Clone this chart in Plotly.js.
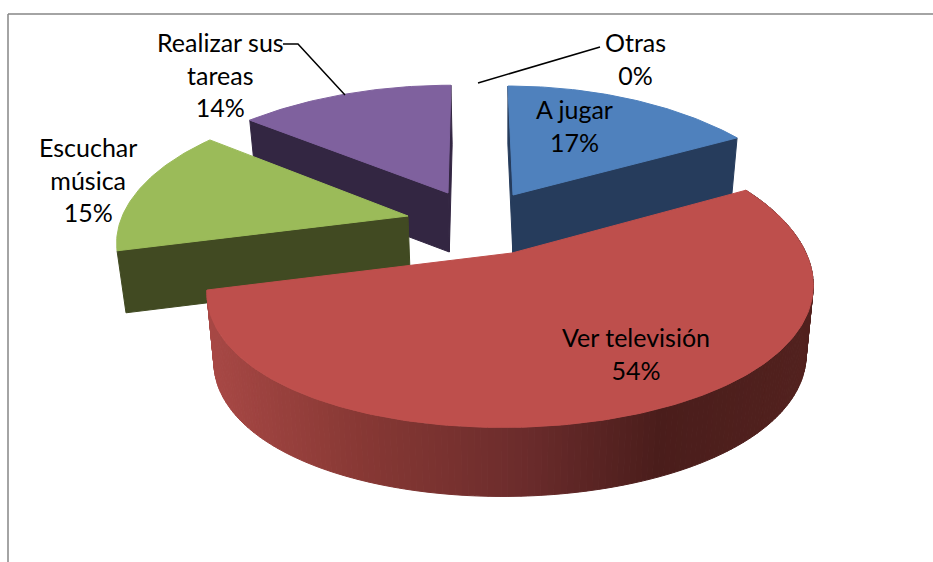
<!DOCTYPE html>
<html><head><meta charset="utf-8">
<script src="https://cdn.plot.ly/plotly-3.0.1.min.js"></script>
<style>html,body{margin:0;padding:0;background:#fff}#c{width:933px;height:562px}</style>
</head><body><div id="c"></div>
<script>
var categories = ["A jugar","Ver televisión","Escuchar música","Realizar sus tareas","Otras"];
var values = [17,54,15,14,0];
var labelLines = [["A jugar"],["Ver televisión"],["Escuchar","música"],["Realizar sus","tareas"],["Otras"]];

// projection constants for the tilted pie (not data)
var geo = [
 {ax:513,ay:195,sx:.973,sy:.91,vx:487,depth:58,top:"#4F81BD",wall:"#263C5C"},
 {ax:512,ay:253,sx:.99,sy:1,vx:542,depth:69,top:"#BE4F4C"},
 {ax:408,ay:216,sx:.962,sy:.94,vx:353,depth:62,top:"#9BBB59",wall:"#414A22"},
 {ax:448,ay:193,sx:1.01,sy:.9,vx:463,depth:59,top:"#7F619E",wall:"#332642"}
];
var A=297,B=142,KX=.242,KY=.186,VX=505,WS=.977,STEP=1;
var labelPos=[[574,125],[636,353],[88,179],[220,74],[635,58]];

function pt(g,deg,r,low){
  var t=deg*Math.PI/180,X=r*Math.sin(t),Y=r*Math.cos(t);
  var sxp=1/(1+KX*Y),syp=1/(1+KY*Y);
  var x=g.ax+g.sx*A*X*sxp+(g.ax-g.vx)*(sxp-1),y=g.ay-g.sy*B*Y*syp;
  if(low){x=VX+(x-VX)*WS;y+=g.depth;}
  return [x,y];
}
function poly(pts,color){
  var xs=pts.map(function(p){return p[0]}),ys=pts.map(function(p){return p[1]});
  xs.push(xs[0]);ys.push(ys[0]);
  return {type:"scatter",mode:"lines",x:xs,y:ys,fill:"toself",fillcolor:color,
    line:{color:color,width:1},hoverinfo:"skip",showlegend:false};
}
function mix(a,b,f){return "rgb("+a.map(function(v,i){return Math.round(v+(b[i]-v)*f)}).join(",")+")";}
function wallColor(x){
  var stops=[[205,[168,72,69]],[360,[135,56,52]],[520,[108,44,44]],[660,[74,29,27]],[810,[82,33,30]]];
  for(var i=1;i<stops.length;i++){ if(x<=stops[i][0]){
    return mix(stops[i-1][1],stops[i][1],Math.max(0,(x-stops[i-1][0])/(stops[i][0]-stops[i-1][0])));}}
  return mix(stops[3][1],stops[4][1],1);
}
var spans=[],acc=0,total=values.reduce(function(a,b){return a+b},0);
values.forEach(function(v){var s=acc/total*360;acc+=v;spans.push([s,acc/total*360]);});

function topFace(i){
  var g=geo[i],pts=[pt(g,0,0,false)];
  for(var d=spans[i][0];d<spans[i][1];d+=STEP)pts.push(pt(g,d,1,false));
  pts.push(pt(g,spans[i][1],1,false));
  return poly(pts,g.top);
}
function radial(i,deg){
  var g=geo[i];
  return poly([pt(g,0,0,false),pt(g,deg,1,false),pt(g,deg,1,true),pt(g,0,0,true)],g.wall);
}
var traces=[];
traces.push(radial(0,spans[0][0]),radial(0,spans[0][1]),topFace(0));
traces.push(radial(3,spans[3][1]),radial(3,spans[3][0]),topFace(3));
traces.push(radial(2,spans[2][0]),topFace(2));
for(var d=spans[1][0];d<spans[1][1];d+=STEP){
  var e=Math.min(d+STEP,spans[1][1]),g=geo[1];
  var a=pt(g,d,1,false),b=pt(g,e,1,false),c=pt(g,e,1,true),f=pt(g,d,1,true);
  traces.push(poly([a,b,c,f],wallColor((a[0]+b[0])/2)));
}
traces.push(topFace(1));
var leaderColor="#000";
traces.push({type:"scatter",mode:"lines",x:[283,298,345],y:[44,44,95],line:{color:leaderColor,width:1.5},hoverinfo:"skip",showlegend:false});
traces.push({type:"scatter",mode:"lines",x:[600,478],y:[47,83],line:{color:leaderColor,width:1.5},hoverinfo:"skip",showlegend:false});

var annotations=categories.map(function(c,i){
  return {x:labelPos[i][0],y:labelPos[i][1],xref:"x",yref:"y",showarrow:false,xanchor:"center",yanchor:"middle",
    text:labelLines[i].concat([values[i]+"%"]).join("<br>"),
    font:{family:"Lato, Carlito, sans-serif",size:25,color:"#000"}};
});
var layout={width:933,height:562,margin:{l:0,r:0,t:0,b:0},paper_bgcolor:"#fff",plot_bgcolor:"#fff",showlegend:false,
  xaxis:{range:[0,933],visible:false,fixedrange:true},
  yaxis:{range:[562,0],visible:false,fixedrange:true},
  annotations:annotations,
  shapes:[
   {type:"line",xref:"paper",yref:"paper",x0:8/933,x1:1,y0:1-14/562,y1:1-14/562,line:{color:"#868686",width:1.5}},
   {type:"line",xref:"paper",yref:"paper",x0:8/933,x1:8/933,y0:1-14/562,y1:0,line:{color:"#868686",width:1.5}}
  ]};
Plotly.newPlot("c",traces,layout,{displayModeBar:false,staticPlot:true});
</script></body></html>
